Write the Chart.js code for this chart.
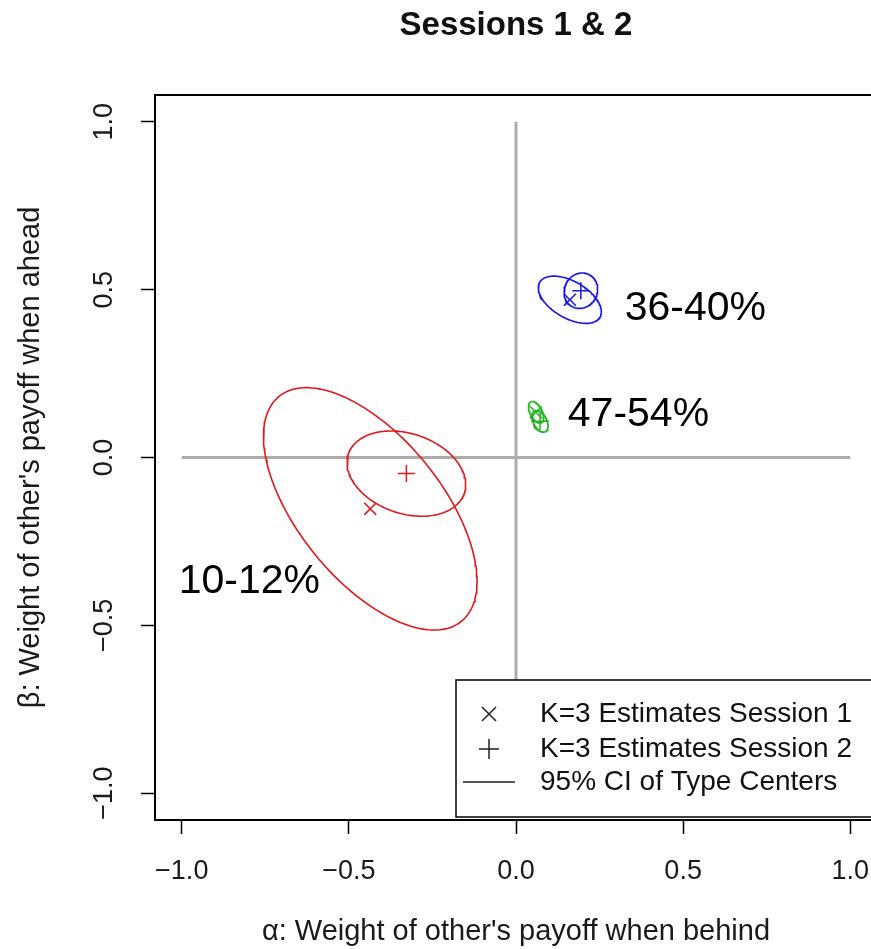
<!DOCTYPE html>
<html>
<head>
<meta charset="utf-8">
<title>Sessions 1 &amp; 2</title>
<script src="https://cdn.jsdelivr.net/npm/chart.js@4/dist/chart.umd.min.js"></script>
<style>
  html, body { margin: 0; padding: 0; background: #ffffff; overflow: hidden; }
  #wrap { width: 871px; height: 949px; overflow: hidden; }
  canvas { display: block; }
</style>
</head>
<body>
<div id="wrap"><canvas id="chart" width="1032" height="949"></canvas></div>
<script>
// ---- data -------------------------------------------------------------
// Type order: red, green, blue
const typeColors = ['rgb(228,22,26)', 'rgb(34,178,34)', 'rgb(22,22,232)'];

// K=3 type-center estimates, session 1 (alpha, beta)
const session1Alpha = [-0.436, 0.060, 0.161];
const session1Beta  = [-0.153, 0.135, 0.470];

// K=3 type-center estimates, session 2 (alpha, beta)
const session2Alpha = [-0.328, 0.072, 0.194];
const session2Beta  = [-0.048, 0.108, 0.497];

// 95% confidence ellipses of the type centers: semi-axes and tilt (degrees)
const ci1Major = [0.432, 0.035, 0.104];
const ci1Minor = [0.214, 0.018, 0.055];
const ci1Tilt  = [-50.8, -62, -29.8];
const ci2Major = [0.183, 0.035, 0.054];
const ci2Minor = [0.119, 0.020, 0.049];
const ci2Tilt  = [-18.6, -62, 60];

// share of subjects per type, and where each share is written
const shareLabels = ['10-12%', '47-54%', '36-40%'];
const shareAlpha  = [-1.009, 0.155, 0.325];
const shareBeta   = [-0.371, 0.129, 0.443];

// axis ticks
const axisTicks = [-1.0, -0.5, 0.0, 0.5, 1.0];
const axisLimit = 1.08;

const legendLabels = ['K=3 Estimates Session 1', 'K=3 Estimates Session 2', '95% CI of Type Centers'];

// ---- helpers ----------------------------------------------------------
const FONT = "'Liberation Sans', Arial, Helvetica, sans-serif";
Chart.defaults.font.family = FONT;
Chart.defaults.color = '#1a1a1a';

function fmtTick(v) {
  const s = Math.abs(v).toFixed(1);
  return v < 0 ? '\u2212' + s : s;
}

// outline of a confidence ellipse from its center, semi-axes and tilt
function ellipseOutline(cx, cy, a, b, tiltDeg) {
  const t = tiltDeg * Math.PI / 180;
  const pts = [];
  const n = 180;
  for (let i = 0; i <= n; i++) {
    const u = 2 * Math.PI * i / n;
    const ex = a * Math.cos(u), ey = b * Math.sin(u);
    pts.push({ x: cx + ex * Math.cos(t) - ey * Math.sin(t),
               y: cy + ex * Math.sin(t) + ey * Math.cos(t) });
  }
  return pts;
}

const datasets = [];

// confidence ellipses
typeColors.forEach((col, i) => {
  datasets.push({
    data: ellipseOutline(session1Alpha[i], session1Beta[i], ci1Major[i], ci1Minor[i], ci1Tilt[i]),
    showLine: true, borderColor: col, borderWidth: 1.6, pointRadius: 0, fill: false, order: 2
  });
  datasets.push({
    data: ellipseOutline(session2Alpha[i], session2Beta[i], ci2Major[i], ci2Minor[i], ci2Tilt[i]),
    showLine: true, borderColor: col, borderWidth: 1.6, pointRadius: 0, fill: false, order: 2
  });
});

// point estimates
datasets.push({
  data: session1Alpha.map((x, i) => ({ x, y: session1Beta[i] })),
  showLine: false, pointStyle: 'crossRot', pointRadius: 8.5,
  pointBorderColor: typeColors, pointBorderWidth: 1.5, order: 1
});
datasets.push({
  data: session2Alpha.map((x, i) => ({ x, y: session2Beta[i] })),
  showLine: false, pointStyle: 'cross', pointRadius: 8.5,
  pointBorderColor: typeColors, pointBorderWidth: 1.5, order: 1
});

// reference lines through the origin
datasets.push({
  data: [{ x: axisTicks[0], y: 0 }, { x: axisTicks[axisTicks.length - 1], y: 0 }],
  showLine: true, borderColor: 'rgb(172,172,172)', borderWidth: 3, pointRadius: 0, order: 5
});
datasets.push({
  data: [{ x: 0, y: axisTicks[0] }, { x: 0, y: axisTicks[axisTicks.length - 1] }],
  showLine: true, borderColor: 'rgb(172,172,172)', borderWidth: 3, pointRadius: 0, order: 5
});

// frame, share labels and legend
const decorations = {
  id: 'decorations',
  afterDatasetsDraw(chart) {
    const { ctx, scales: { x, y } } = chart;
    ctx.save();
    ctx.fillStyle = '#000';
    ctx.font = '41px ' + FONT;
    ctx.textAlign = 'left';
    ctx.textBaseline = 'middle';
    shareLabels.forEach((txt, i) => {
      ctx.fillText(txt, x.getPixelForValue(shareAlpha[i]), y.getPixelForValue(shareBeta[i]));
    });
    ctx.restore();
  },
  afterDraw(chart) {
    const { ctx, chartArea: ca } = chart;
    ctx.save();
    // legend box, bottom right of the plot
    const lw = 421, lh = 137;
    const lx = ca.right - lw, ly = ca.bottom - 3 - lh;
    ctx.fillStyle = '#fff';
    ctx.fillRect(lx, ly, lw, lh);
    ctx.strokeStyle = '#000';
    ctx.lineWidth = 1.5;
    ctx.strokeRect(lx, ly, lw, lh);

    const symX = lx + 33, txtX = lx + 84;
    const rows = [ly + 34, ly + 69, ly + 102];
    ctx.strokeStyle = '#222';
    ctx.lineWidth = 1.5;
    ctx.beginPath();
    const h = 7;
    ctx.moveTo(symX - h, rows[0] - h); ctx.lineTo(symX + h, rows[0] + h);
    ctx.moveTo(symX + h, rows[0] - h); ctx.lineTo(symX - h, rows[0] + h);
    const p = 10;
    ctx.moveTo(symX - p, rows[1]); ctx.lineTo(symX + p, rows[1]);
    ctx.moveTo(symX, rows[1] - p); ctx.lineTo(symX, rows[1] + p);
    ctx.moveTo(lx + 7, rows[2]); ctx.lineTo(lx + 59, rows[2]);
    ctx.stroke();

    ctx.fillStyle = '#111';
    ctx.font = '28px ' + FONT;
    ctx.textAlign = 'left';
    ctx.textBaseline = 'middle';
    legendLabels.forEach((t, i) => ctx.fillText(t, txtX, rows[i]));

    // plot frame
    ctx.strokeStyle = '#000';
    ctx.lineWidth = 2;
    ctx.strokeRect(ca.left, ca.top, ca.right - ca.left, ca.bottom - ca.top);
    ctx.restore();
  }
};

new Chart(document.getElementById('chart'), {
  type: 'scatter',
  data: { datasets },
  plugins: [decorations],
  options: {
    responsive: false,
    animation: false,
    devicePixelRatio: 1,
    events: [],
    layout: { padding: 0 },
    plugins: {
      legend: { display: false },
      tooltip: { enabled: false },
      title: {
        display: true,
        text: 'Sessions 1 & 2',
        color: '#111',
        font: { size: 33, weight: 'bold', lineHeight: 1.2 },
        padding: { top: 6, bottom: 49.4 }
      }
    },
    scales: {
      x: {
        type: 'linear', position: 'bottom',
        min: -axisLimit, max: axisLimit,
        afterBuildTicks: s => { s.ticks = axisTicks.map(v => ({ value: v })); },
        afterFit: s => { s.height = 129; },
        grid: { drawOnChartArea: false, drawTicks: true, tickLength: 14, tickColor: '#000', tickWidth: 1.5 },
        border: { display: false },
        ticks: { font: { size: 27 }, color: '#1a1a1a', padding: 21, callback: v => fmtTick(v), autoSkip: false, maxRotation: 0 },
        title: { display: true, text: '\u03b1: Weight of other\'s payoff when behind', color: '#1a1a1a',
                 font: { size: 29, lineHeight: 1.2 }, padding: { top: 0, bottom: 0 } }
      },
      y: {
        type: 'linear', position: 'left',
        min: -axisLimit, max: axisLimit,
        afterBuildTicks: s => { s.ticks = axisTicks.map(v => ({ value: v })); },
        afterFit: s => { s.width = 155; },
        grid: { drawOnChartArea: false, drawTicks: true, tickLength: 14, tickColor: '#000', tickWidth: 1.5 },
        border: { display: false },
        ticks: { font: { size: 27 }, color: '#1a1a1a', padding: 10, callback: v => fmtTick(v),
                 autoSkip: false, minRotation: 90, maxRotation: 90, crossAlign: 'center' },
        title: { display: true, text: '\u03b2: Weight of other\'s payoff when ahead', color: '#1a1a1a',
                 font: { size: 29, lineHeight: 1.2 }, padding: { top: 13.6, bottom: 0 } }
      },
      margin: {
        type: 'linear', position: 'right', axis: 'y',
        min: 0, max: 1,
        afterFit: s => { s.width = 155; },
        grid: { display: false },
        border: { display: false },
        ticks: { display: false }
      }
    }
  }
});
</script>
</body>
</html>
